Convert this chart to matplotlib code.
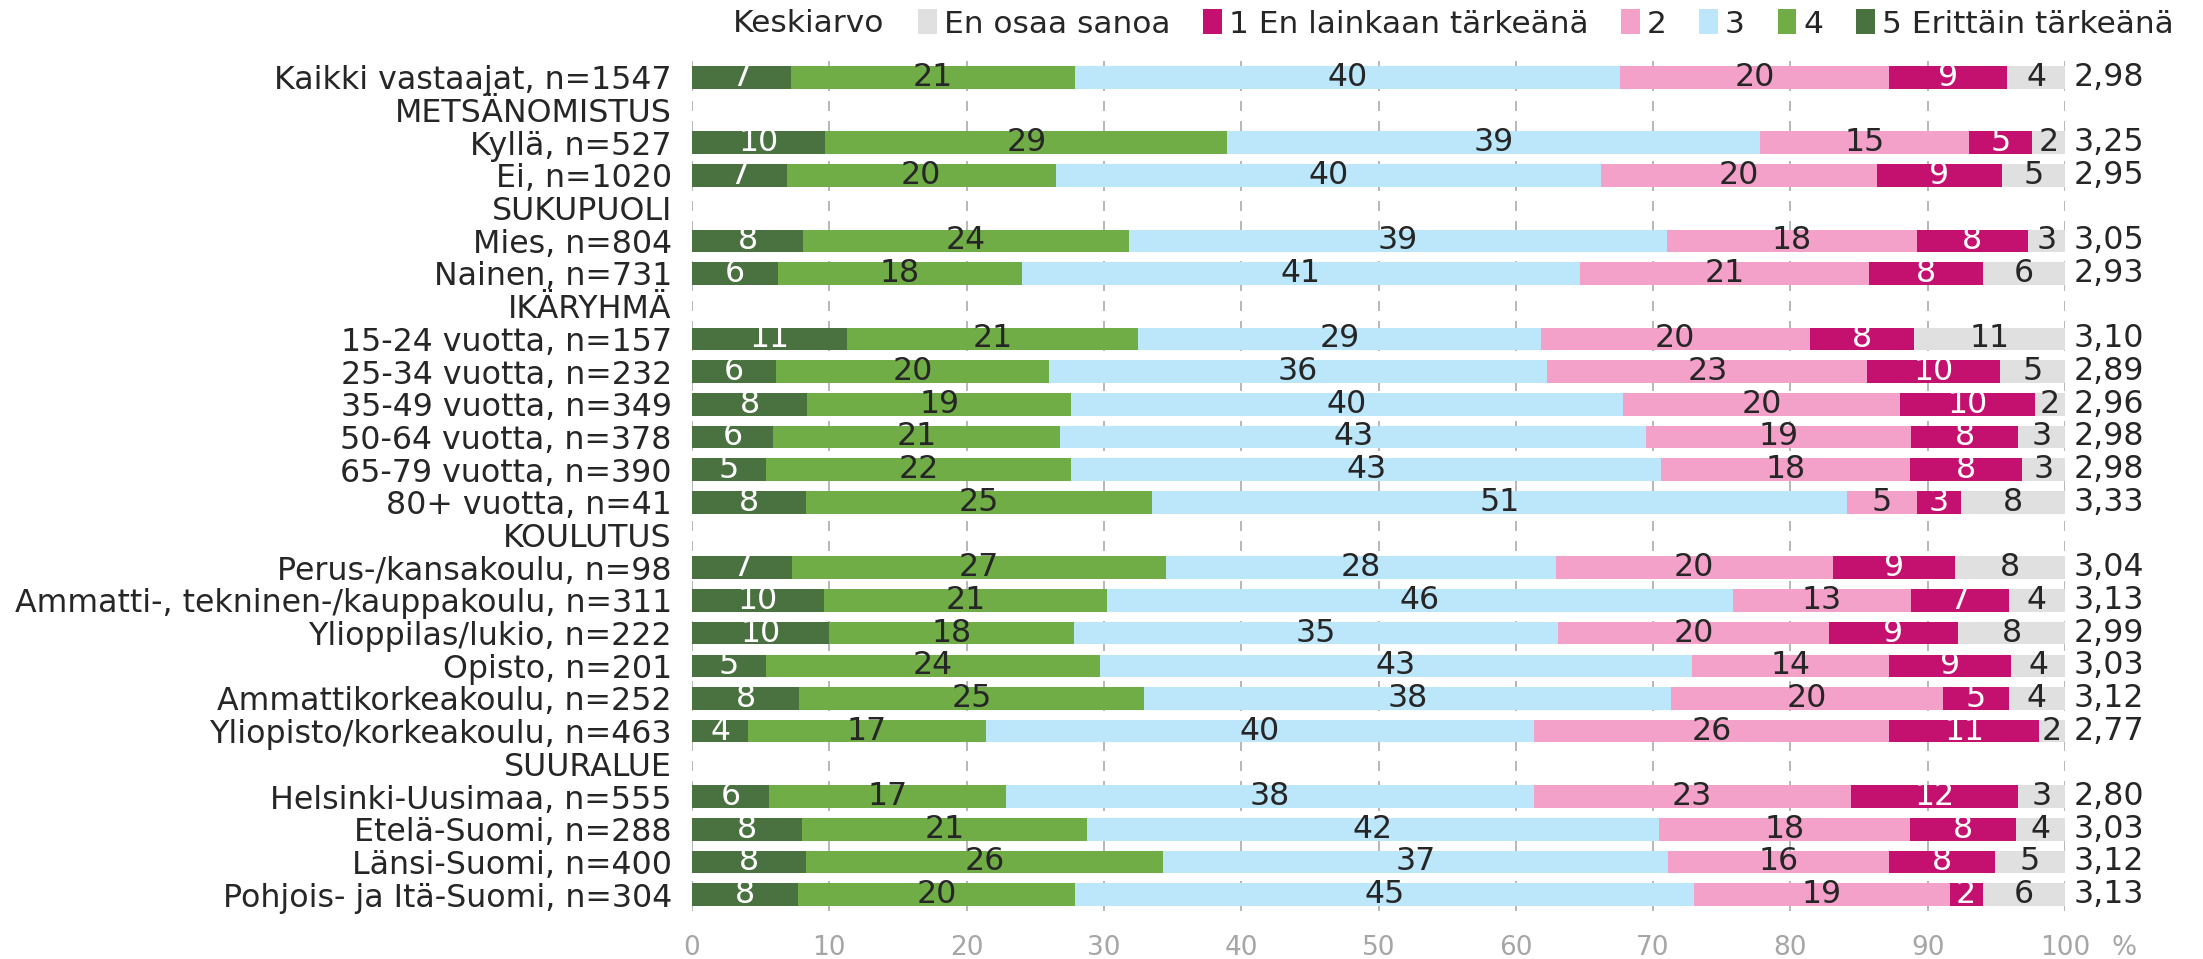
import numpy as np
import matplotlib
matplotlib.use("Agg")
import matplotlib.pyplot as plt
from matplotlib.patches import Patch

plt.rcParams['font.family'] = ['DejaVu Sans']

rows = [
    "Kaikki vastaajat, n=1547", "METSÄNOMISTUS", "Kyllä, n=527", "Ei, n=1020",
    "SUKUPUOLI", "Mies, n=804", "Nainen, n=731", "IKÄRYHMÄ",
    "15-24 vuotta, n=157", "25-34 vuotta, n=232", "35-49 vuotta, n=349",
    "50-64 vuotta, n=378", "65-79 vuotta, n=390", "80+ vuotta, n=41",
    "KOULUTUS", "Perus-/kansakoulu, n=98", "Ammatti-, tekninen-/kauppakoulu, n=311",
    "Ylioppilas/lukio, n=222", "Opisto, n=201", "Ammattikorkeakoulu, n=252",
    "Yliopisto/korkeakoulu, n=463", "SUURALUE", "Helsinki-Uusimaa, n=555",
    "Etelä-Suomi, n=288", "Länsi-Suomi, n=400", "Pohjois- ja Itä-Suomi, n=304",
]
N = None
s5 = [7.2, N, 9.7, 6.9, N, 8.1, 6.3, N, 11.3, 6.1, 8.4, 5.9, 5.4, 8.3, N,
      7.3, 9.6, 10.0, 5.4, 7.8, 4.1, N, 5.6, 8.0, 8.3, 7.7]
s4 = [20.7, N, 29.3, 19.6, N, 23.7, 17.7, N, 21.2, 19.9, 19.2, 20.9, 22.2, 25.2, N,
      27.2, 20.6, 17.8, 24.3, 25.1, 17.3, N, 17.3, 20.8, 26.0, 20.2]
s3 = [39.7, N, 38.8, 39.7, N, 39.2, 40.7, N, 29.3, 36.3, 40.2, 42.7, 43.0, 50.6, N,
      28.4, 45.6, 35.3, 43.1, 38.4, 39.9, N, 38.4, 41.6, 36.8, 45.1]
s2 = [19.6, N, 15.2, 20.1, N, 18.2, 21.0, N, 19.6, 23.3, 20.2, 19.3, 18.1, 5.1, N,
      20.2, 13.0, 19.7, 14.4, 19.8, 25.9, N, 23.1, 18.3, 16.1, 18.6]
s1 = [8.6, N, 4.6, 9.1, N, 8.1, 8.3, N, 7.6, 9.7, 9.8, 7.8, 8.2, 3.2, N,
      8.9, 7.1, 9.4, 8.9, 4.8, 10.9, N, 12.2, 7.7, 7.7, 2.4]
eos = [4.2, N, 2.4, 4.6, N, 2.7, 6.0, N, 11.0, 4.7, 2.2, 3.4, 3.1, 7.6, N,
       8.0, 4.1, 7.8, 3.9, 4.1, 1.9, N, 3.4, 3.6, 5.1, 6.0]
means = ["2,98", N, "3,25", "2,95", N, "3,05", "2,93", N, "3,10", "2,89", "2,96",
         "2,98", "2,98", "3,33", N, "3,04", "3,13", "2,99", "3,03", "3,12", "2,77",
         N, "2,80", "3,03", "3,12", "3,13"]

series = [
    ("5 Erittäin tärkeänä", s5, "#4a7240", "white"),
    ("4", s4, "#70ad47", "#262626"),
    ("3", s3, "#bce6fa", "#262626"),
    ("2", s2, "#f4a1c9", "#262626"),
    ("1 En lainkaan tärkeänä", s1, "#c4116f", "white"),
    ("En osaa sanoa", eos, "#e0e0e0", "#262626"),
]

FS = 22.8
fig = plt.figure(figsize=(22.03, 9.59), dpi=100)
ax = fig.add_axes([692 / 2203, 48 / 959, (2065 - 692) / 2203, 850 / 959])

y = np.arange(len(rows))
left = np.zeros(len(rows))
for name, vals, color, tcol in series:
    v = np.array([np.nan if a is None else a for a in vals], dtype=float)
    vv = np.nan_to_num(v)
    ax.barh(y, vv, left=left, height=0.69, color=color, zorder=2)
    for i in range(len(rows)):
        if not np.isnan(v[i]):
            ax.text(left[i] + vv[i] / 2, y[i], f"{int(round(v[i]))}", ha="center",
                    va="center", fontsize=FS, color=tcol, zorder=3)
    left = left + vv

for i, m in enumerate(means):
    if m is not None:
        ax.text(100.65, y[i], m, ha="left", va="center", fontsize=FS, color="#262626")

ax.set_xlim(0, 100)
ax.set_ylim(len(rows) - 0.5, -0.5)
ax.set_yticks(y)
ax.set_yticklabels(rows, fontsize=FS, color="#262626")
ax.set_xticks(np.arange(0, 101, 10))
ax.set_xticklabels([str(t) for t in range(0, 101, 10)], fontsize=19, color="#a6a6a6")
ax.tick_params(axis="both", length=0)
ax.tick_params(axis="y", pad=14.5)
ax.tick_params(axis="x", pad=17)
for s in ax.spines.values():
    s.set_visible(False)
ax.grid(axis="x", color="#aaaaaa", linestyle=(0, (6, 6)), linewidth=1.2, zorder=0)
ax.set_axisbelow(True)

fig.text(2124 / 2203, 11 / 959, "%", fontsize=19, color="#a6a6a6", ha="center", va="center")

fig.text(733 / 2203, 1 - 24 / 959, "Keskiarvo", fontsize=22.5, color="#262626",
         ha="left", va="center")
handles = [Patch(facecolor=c, edgecolor="none", label=n) for n, _, c, _ in series[::-1]]
fig.legend(handles=handles, loc="center left", bbox_to_anchor=(918 / 2203, 1 - 24 / 959),
           ncol=6, frameon=False, fontsize=22.5, handlelength=0.6, handleheight=0.85,
           handletextpad=0.22, columnspacing=1.05, borderaxespad=0, borderpad=0,
           labelcolor="#262626")

fig.savefig("out.png", dpi=100)
